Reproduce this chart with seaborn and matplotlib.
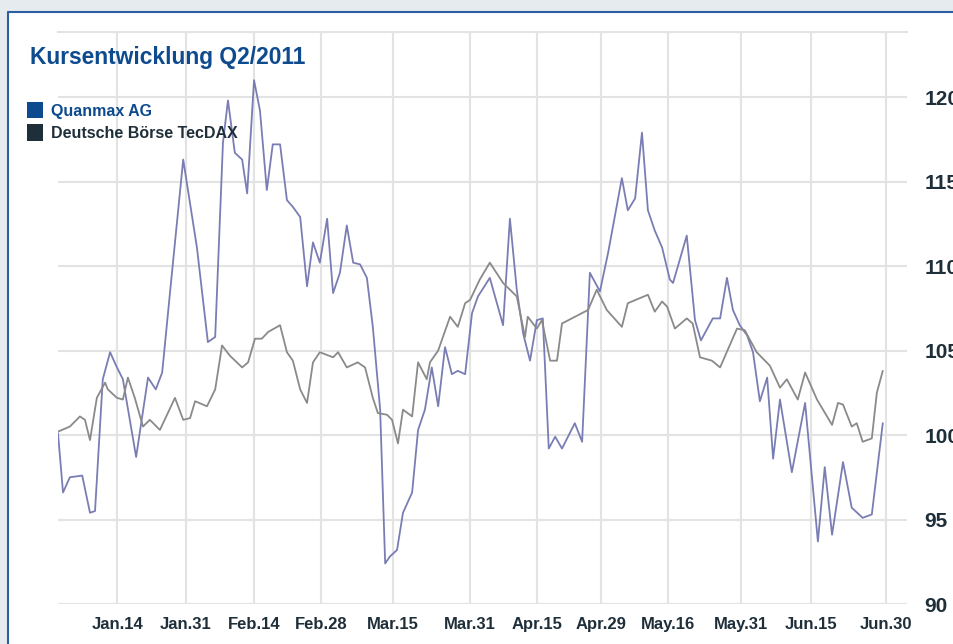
import numpy             as np
import pandas            as pd
import seaborn           as sns
import matplotlib.pyplot as plt

from matplotlib.patches import Rectangle, Patch
from matplotlib.lines   import Line2D

title        = 'Kursentwicklung Q2/2011'
series_names = ['Quanmax AG', 'Deutsche Börse TecDAX']

# x = days since start of the period, y = indexed price (start = 100)
tick_days   = [13, 28, 43, 57.5, 73.3, 90.2, 104.8, 118.8, 133.5, 149.4, 164.9, 181.2]
tick_labels = ['Jan.14', 'Jan.31', 'Feb.14', 'Feb.28', 'Mar.15', 'Mar.31',
               'Apr.15', 'Apr.29', 'May.16', 'May.31', 'Jun.15', 'Jun.30']
y_ticks     = [90, 95, 100, 105, 110, 115, 120]

quanmax_day   = [0, 1.1, 2.6, 5.3, 7.0, 8.1, 9.8, 11.4, 12.9, 14.2, 17.1, 19.7, 21.4, 22.8,
                 24.5, 27.4, 30.4, 32.8, 34.4, 36.1, 37.2, 38.7, 40.3, 41.4, 42.9, 44.2,
                 45.7, 47.0, 48.6, 50.1, 51.4, 53.0, 54.5, 55.8, 57.3, 58.9, 60.2, 61.7,
                 63.2, 64.6, 66.1, 67.6, 68.9, 70.5, 71.6, 72.6, 74.2, 75.5, 77.5, 78.8,
                 80.3, 81.8, 83.2, 84.7, 86.2, 87.5, 89.1, 90.6, 91.9, 94.5, 97.4, 98.9,
                 100.4, 101.8, 103.3, 104.8, 106.1, 107.4, 108.8, 110.3, 113.1, 114.7,
                 116.4, 118.6, 120.4, 123.4, 124.7, 126.3, 127.8, 129.1, 130.6, 132.2,
                 133.9, 134.6, 137.6, 139.4, 140.7, 143.3, 144.9, 146.4, 147.7, 149.2,
                 150.8, 152.1, 153.6, 155.2, 156.5, 158.0, 160.6, 163.5, 166.3, 167.8,
                 169.4, 171.8, 173.7, 176.1, 178.1, 180.5]
quanmax_value = [100.1, 96.6, 97.5, 97.6, 95.4, 95.5, 103.3, 104.9, 104.0, 103.3, 98.7,
                 103.4, 102.7, 103.7, 108.4, 116.3, 111.1, 105.5, 105.8, 117.3, 119.8,
                 116.7, 116.3, 114.3, 121.0, 119.2, 114.5, 117.2, 117.2, 113.9, 113.5,
                 112.9, 108.8, 111.4, 110.2, 112.8, 108.4, 109.6, 112.4, 110.2, 110.1,
                 109.3, 106.4, 101.5, 92.4, 92.8, 93.2, 95.4, 96.6, 100.3, 101.5, 104.0,
                 101.7, 105.2, 103.6, 103.8, 103.6, 107.2, 108.2, 109.3, 106.5, 112.8,
                 108.6, 106.0, 104.4, 106.8, 106.9, 99.2, 99.9, 99.2, 100.7, 99.6, 109.6,
                 108.5, 110.8, 115.2, 113.3, 114.0, 117.9, 113.3, 112.1, 111.1, 109.2,
                 109.0, 111.8, 106.8, 105.6, 106.9, 106.9, 109.3, 107.4, 106.5, 105.9,
                 104.9, 102.0, 103.4, 98.6, 102.1, 97.8, 101.9, 93.7, 98.1, 94.1, 98.4,
                 95.7, 95.1, 95.3, 100.7]

tecdax_day   = [0, 2.6, 4.8, 5.9, 7.0, 8.5, 10.3, 10.9, 12.9, 14.2, 15.3, 16.8, 18.6, 20.1,
                22.3, 25.6, 27.4, 28.9, 30.0, 32.6, 34.4, 35.9, 37.6, 40.3, 41.6, 43.1,
                44.6, 46.0, 48.6, 50.1, 51.4, 53.0, 54.5, 55.8, 57.3, 60.2, 61.3, 63.2,
                65.6, 67.2, 68.9, 70.0, 72.0, 73.1, 74.4, 75.5, 77.5, 78.8, 80.7, 81.4,
                83.2, 85.8, 87.5, 89.1, 90.2, 92.3, 94.5, 97.4, 100.4, 102.2, 102.8,
                104.8, 105.9, 107.7, 109.2, 110.3, 116.0, 117.9, 120.1, 123.4, 124.7,
                129.1, 130.6, 132.2, 133.3, 135.0, 137.6, 138.9, 140.5, 143.1, 144.9,
                148.6, 150.3, 152.9, 155.8, 158.0, 159.5, 161.9, 163.5, 166.1, 169.4,
                170.7, 171.8, 173.7, 174.8, 176.1, 178.1, 179.2, 180.5]
tecdax_value = [100.2, 100.5, 101.1, 100.9, 99.7, 102.2, 103.1, 102.7, 102.2, 102.1,
                103.4, 102.2, 100.5, 100.9, 100.3, 102.2, 100.9, 101.0, 102.0, 101.7,
                102.7, 105.3, 104.7, 104.0, 104.3, 105.7, 105.7, 106.1, 106.5, 104.9,
                104.4, 102.7, 101.9, 104.3, 104.9, 104.6, 104.9, 104.0, 104.3, 104.0,
                102.2, 101.3, 101.2, 100.9, 99.5, 101.5, 101.1, 104.3, 103.3, 104.3,
                105.0, 107.0, 106.4, 107.8, 108.0, 109.2, 110.2, 109.0, 108.2, 105.8,
                107.0, 106.3, 106.8, 104.4, 104.4, 106.6, 107.4, 108.6, 107.4, 106.4,
                107.8, 108.3, 107.3, 107.9, 107.6, 106.3, 106.9, 106.6, 104.6, 104.4,
                104.0, 106.3, 106.2, 104.9, 104.1, 102.8, 103.3, 102.1, 103.7, 102.1,
                100.6, 101.9, 101.8, 100.5, 100.7, 99.6, 99.8, 102.5, 103.8]

df = pd.concat([
    pd.DataFrame({'day': quanmax_day, 'value': quanmax_value, 'series': series_names[0]}),
    pd.DataFrame({'day': tecdax_day,  'value': tecdax_value,  'series': series_names[1]}),
])

sns.set_theme(style = 'white')
plt.rcParams['font.family'] = ['Liberation Sans', 'DejaVu Sans']
narrow = ['Liberation Sans Narrow', 'Liberation Sans', 'DejaVu Sans']

blue      = '#0d4a8e'
dark      = '#1f2f3a'
grid_col  = '#e3e3e3'
line_cols = ['#7a7db3', '#8a8a8a']

fig = plt.figure(figsize = (9.54, 6.44), dpi = 100)
fig.patch.set_facecolor('white')
ax = fig.add_axes([58 / 954, 1 - 604 / 644, (907 - 58) / 954, (604 - 32) / 644])

sns.lineplot(data = df, x = 'day', y = 'value', hue = 'series', palette = line_cols,
             linewidth = 1.3, sort = False, estimator = None, legend = False, ax = ax)

ax.set_xlim(0, 185.8)
ax.set_ylim(90, 123.85)
ax.set_xticks(tick_days, tick_labels)
ax.set_yticks(y_ticks)
ax.set_xlabel('')
ax.set_ylabel('')
ax.grid(True, color = grid_col, linewidth = 1.5)
ax.set_axisbelow(True)
for side in ['left', 'right', 'bottom']:
    ax.spines[side].set_visible(False)
ax.spines['top'].set_color(grid_col)
ax.spines['top'].set_linewidth(1.5)

ax.yaxis.tick_right()
ax.tick_params(axis = 'x', length = 0, pad = 9.5)
ax.tick_params(axis = 'y', length = 0, pad = 12.5)
for lab in ax.get_xticklabels():
    lab.set_family(narrow); lab.set_weight('bold'); lab.set_size(12); lab.set_color(dark)
for lab in ax.get_yticklabels():
    lab.set_family(narrow); lab.set_weight('bold'); lab.set_size(15); lab.set_color(dark)

# title and legend in the upper left corner
fig.text(30 / 954, 1 - 64 / 644, title, fontsize = 16.4, fontweight = 'bold',
         color = blue, va = 'baseline', ha = 'left')

handles = [Patch(facecolor = blue, edgecolor = 'none'),
           Patch(facecolor = dark, edgecolor = 'none')]
leg = ax.legend(handles, series_names, loc = 'upper left',
                bbox_to_anchor = (27 / 954, 1 - 102 / 644), bbox_transform = fig.transFigure,
                frameon = False, borderpad = 0, borderaxespad = 0,
                handlelength = 1.03, handleheight = 1.2, handletextpad = 0.45,
                labelspacing = 0.35, prop = {'weight': 'bold', 'size': 11.5})
leg.get_texts()[0].set_color(blue)
leg.get_texts()[1].set_color(dark)

# page background band and blue frame
fig.add_artist(Rectangle((0, 1 - 12 / 644), 1, 12 / 644, transform = fig.transFigure,
                         facecolor = '#e6ebef', edgecolor = 'none', zorder = 0))
fig.add_artist(Rectangle((0, 0), 8 / 954, 1, transform = fig.transFigure,
                         facecolor = '#e6ebef', edgecolor = 'none', zorder = 0))
fig.add_artist(Line2D([8 / 954, 8 / 954], [0, 1 - 12 / 644], transform = fig.transFigure,
                      color = '#2b5fa0', linewidth = 1.5))
fig.add_artist(Line2D([8 / 954, 1], [1 - 12 / 644, 1 - 12 / 644], transform = fig.transFigure,
                      color = '#2b5fa0', linewidth = 1.5))

fig.savefig('out.png', dpi = 100)
